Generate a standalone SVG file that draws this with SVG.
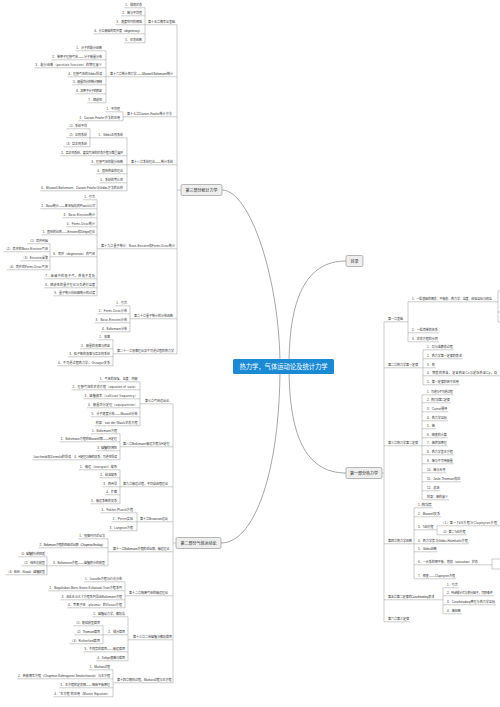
<svg xmlns="http://www.w3.org/2000/svg" width="500" height="707" viewBox="0 0 500 707">
<style>
.t{font-family:"Liberation Sans","Noto Sans CJK SC",sans-serif;font-size:3px;fill:#333}
.n{font-family:"Liberation Sans","Noto Sans CJK SC",sans-serif;font-size:4px;fill:#222;text-anchor:middle}
.c{font-family:"Liberation Sans","Noto Sans CJK SC",sans-serif;font-size:6.3px;fill:#fff;text-anchor:middle}
.l{fill:none;stroke:#9a9a9a;stroke-width:.5}
.k{fill:none;stroke:#6a6a6a;stroke-width:.6}
.b{fill:#eeeeee;stroke:#777;stroke-width:.5}
</style>
<rect width="500" height="707" fill="#fff"/>
<g id="connectors">
<path class="k" d="M222 190C250 190 280 280 280 366.5M221 543C255 543 280 470 280 366.5M346 261C305 261 289 300 289 366.5M346 473C305 473 289 434 289 366.5"/>
<path class="l" d="M177 24.8V353.8M177 190H181M173 403.8V682.8M173 543H176M384 321.8V621.8M382 473H384"/>
<path class="l" d="M124.3 7.8H145M121.3 15.8H145M115.3 24.8H177M93.3 33.8H145M124.3 42.8H145M145 7.8V42.8"/>
<path class="l" d="M75.3 50.8H106M51.3 59.8H106M34.3 67.8H106M67.3 76.8H177M72.3 84.8H106M75.3 93.8H106M87.3 102.8H106M106 50.8V102.8"/>
<path class="l" d="M105.3 111.8H123M78.5 120.8H123M123 111.8V120.8M123 116.8H177"/>
<path class="l" d="M66.3 128.8H90M66.3 137.8H127M63.3 146.8H90M90 128.8V146.8M60.3 155.8H127M90.3 164.8H177M96.3 173.8H127M99.3 182.8H127M40.3 190.8H127M127 137.8V190.8"/>
<path class="l" d="M83.3 199.8H97M40.3 208.8H97M62.5 217.8H97M65.7 226.8H97M41.5 234.8H97M50 256.8H97M27.3 243.8H50M3.5 251.8H50M20.5 260.8H50M6.7 269.8H50M50 243.8V269.8M44.3 278.8H97M44.3 287.8H97M53.3 295.8H97M97 199.8V295.8M97 248.8H177"/>
<path class="l" d="M115.3 305.8H130M97.7 313.8H130M94.5 322.8H130M100.9 331.8H130M130 305.8V331.8M130 318.8H177"/>
<path class="l" d="M98.3 339.8H113M80.3 348.8H113M68.3 356.8H113M57.1 365.8H113M113 339.8V365.8M113 353.8H177"/>
<path class="l" d="M98.8 381.8H140M71.6 389.8H140M83.5 398.8H140M87 407.8H140M90.6 416.8H140M94.7 425.8H140M140 381.8V425.8M140 403.8H173"/>
<path class="l" d="M90.9 433.8H120M59.7 441.8H120M96.3 450.8H120M32.4 459.8H120M120 433.8V459.8M120 446.8H173"/>
<path class="l" d="M78.9 469.8H120M99.3 477.8H120M102.3 486.8H173M105.3 494.8H120M90.3 503.8H120M120 469.8V503.8"/>
<path class="l" d="M100.5 512.8H137M111.7 521.8H173M108.5 530.8H137M137 512.8V530.8"/>
<path class="l" d="M78.3 538.8H108M38.5 547.8H108M47 565.8H108M18.3 556.8H47M21.3 565.8H47M5.5 574.8H47M47 556.8V574.8M108 538.8V565.8M108 551.8H173"/>
<path class="l" d="M83.9 581.8H125M48.3 590.8H125M60.5 599.8H125M67.1 607.8H125M125 581.8V607.8M125 595.8H173"/>
<path class="l" d="M92.3 616.8H128M103 634.8H128M73.3 625.8H103M74.1 634.8H103M69.3 643.8H103M103 625.8V643.8M83.3 651.8H128M96.3 660.8H128M128 616.8V660.8M128 639.8H173"/>
<path class="l" d="M88.7 669.8H113M17.1 678.8H113M59.3 687.8H113M53.3 696.8H113M113 669.8V696.8M113 682.8H173"/>
<path class="l" d="M384 321.8H408M408 301.8V341.8M408 301.8H498M498 291V322M498 291H500M498 312H500M498 322H500M408 332.8H438.7M408 341.8H438.7"/>
<path class="l" d="M384 367.8H423M423 349.8V384.8M423 349.8H453.7M423 358.8H462.7M423 367.8H435.7M423 375.8H500M423 384.8H459.7"/>
<path class="l" d="M384 445.8H422M422 394.8V499.8M422 394.8H453.7M422 402.8H450.7M422 411.8H448.3M422 420.8H447.7M422 428.8H435.7M422 437.8H447.7M422 445.8H447.7M422 454.8H453.7M422 463.8H453.7M422 472.8H446.4M422 481.8H461.2M422 490.8H440.4M422 499.8H449"/>
<path class="l" d="M384 543.8H414M414 507.8V578.8M414 507.8H432.7M414 516.8H440.9M414 529.8H437M437 525.8V534.8M437 525.8H500M437 534.8H466.5M414 543.8H468.7M414 551.8H437.7M414 564.8H492M492 559V569M492 559H500M492 569H500M414 578.8H456.1"/>
<path class="l" d="M384 599.8H443M443 587.8V613.8M443 587.8H458.7M443 595.8H493.7M443 604.8H495.9M443 613.8H461.7"/>
<path class="l" d="M384 621.8H410"/>
</g>
<g id="ch15" class="t" text-anchor="end">
<text x="148" y="23.2" text-anchor="start" textLength="27">第十五章概率论基础</text>
<text x="142" y="6.2" textLength="16.7">1、微观状态</text>
<text x="142" y="14.2" textLength="19.7">2、熵与平均值</text>
<text x="142" y="23.2" textLength="25.7">3、速度空间的相格</text>
<text x="142" y="32.2" textLength="47.7">4、分立能级的简并度（degeneracy）</text>
<text x="142" y="41.2" textLength="16.7">5、状态函数</text>
</g>
<g id="ch16" class="t" text-anchor="end">
<text x="110" y="75.2" text-anchor="start" textLength="63">第十六章统计热力学——Maxwell-Boltzmann统计</text>
<text x="102" y="49.2" textLength="25.7">1、分子的配分函数</text>
<text x="102" y="58.2" textLength="49.7">2、单原子理想气体——分子能量分布</text>
<text x="102" y="66.2" textLength="66.7">3、配分函数（partition function）的物理意义</text>
<text x="102" y="75.2" textLength="33.7">4、理想气体的Gibbs佯谬</text>
<text x="102" y="83.2" textLength="28.7">5、能量均分的统计解释</text>
<text x="102" y="92.2" textLength="25.7">6、双原子分子的热容</text>
<text x="102" y="101.2" textLength="13.7">7、顺磁性</text>
</g>
<g id="ch17" class="t" text-anchor="end">
<text x="127" y="115.2" text-anchor="start" textLength="44.8">第十七章Darwin-Fowler统计方法</text>
<text x="120" y="110.2" textLength="13.7">1、平均值</text>
<text x="120" y="119.2" textLength="40.5">2、Darwin-Fowler方法的应用</text>
</g>
<g id="ch18" class="t" text-anchor="end">
<text x="131" y="163.2" text-anchor="start" textLength="42">第十八章系综理论——统计系综</text>
<text x="123" y="136.2" textLength="24.7">1、Gibbs正则系综</text>
<text x="87" y="127.2" textLength="19.7">（1）系综平均</text>
<text x="87" y="136.2" textLength="19.7">（2）正则系综</text>
<text x="87" y="145.2" textLength="22.7">（3）巨正则系综</text>
<text x="123" y="154.2" textLength="61.7">2、巨正则系综，真实气体的状态方程与维里展开</text>
<text x="123" y="163.2" textLength="31.7">3、理想气体的配分函数</text>
<text x="123" y="172.2" textLength="25.7">4、固体热容的理论</text>
<text x="123" y="181.2" textLength="22.7">5、系综的等价性</text>
<text x="123" y="189.2" textLength="81.7">6、Maxwell-Boltzmann、Darwin-Fowler与Gibbs方法的比较</text>
</g>
<g id="ch19" class="t" text-anchor="end">
<text x="101" y="247.2" text-anchor="start" textLength="74">第十九章量子统计：Bose-Einstein和Fermi-Dirac统计</text>
<text x="95" y="198.2" textLength="10.7">1、引言</text>
<text x="95" y="207.2" textLength="53.7">2、Bose统计——黑体辐射的Planck公式</text>
<text x="95" y="216.2" textLength="31.5">3、Bose-Einstein统计</text>
<text x="95" y="225.2" textLength="28.3">4、Fermi-Dirac统计</text>
<text x="95" y="233.2" textLength="52.5">5、固体的比热——Einstein和Debye理论</text>
<text x="95" y="255.2" textLength="41.7">6、简并（degenerate）的气体</text>
<text x="48" y="242.2" textLength="19.7">（1）简并判据</text>
<text x="48" y="250.2" textLength="43.5">（2）简并的Bose-Einstein气体</text>
<text x="48" y="259.2" textLength="26.5">（3）Einstein凝聚</text>
<text x="48" y="268.2" textLength="40.3">（4）简并的Fermi-Dirac气体</text>
<text x="95" y="277.2" textLength="49.7">7、金属中的电子气，热电子发射</text>
<text x="95" y="286.2" textLength="49.7">8、顺磁性的量子理论与负绝对温度</text>
<text x="95" y="294.2" textLength="40.7">9、量子统计向经典统计的过渡</text>
</g>
<g id="ch20" class="t" text-anchor="end">
<text x="134" y="317.2" text-anchor="start" textLength="39">第二十章量子统计的分布函数</text>
<text x="127" y="304.2" textLength="10.7">1、引言</text>
<text x="127" y="312.2" textLength="28.3">2、Fermi-Dirac分布</text>
<text x="127" y="321.2" textLength="31.5">3、Bose-Einstein分布</text>
<text x="127" y="330.2" textLength="25.1">4、Boltzmann分布</text>
</g>
<g id="ch21" class="t" text-anchor="end">
<text x="117" y="352.2" text-anchor="start" textLength="57">第二十一章涨落理论及不可逆过程的热力学</text>
<text x="110" y="338.2" textLength="10.7">1、涨落</text>
<text x="110" y="347.2" textLength="28.7">2、能量的涨落与热容</text>
<text x="110" y="355.2" textLength="40.7">3、粒子数的涨落与巨正则系综</text>
<text x="110" y="364.2" textLength="51.9">4、不可逆过程热力学，Onsager关系</text>
</g>
<g id="ch07" class="t" text-anchor="end">
<text x="145" y="402.2" text-anchor="start" textLength="24">第七章气体运动论</text>
<text x="137.5" y="380.2" textLength="37.7">1、气体的压强、温度、内能</text>
<text x="137.5" y="388.2" textLength="64.9">2、理想气体的状态方程（equation of state）</text>
<text x="137.5" y="397.2" textLength="53">3、碰撞频率（collision frequency）</text>
<text x="137.5" y="406.2" textLength="49.5">4、能量均分定理（equipartition）</text>
<text x="137.5" y="415.2" textLength="45.9">5、分子速度分布——Maxwell分布</text>
<text x="137.5" y="424.2" textLength="41.8">附录：van der Waals状态方程</text>
</g>
<g id="ch08" class="t" text-anchor="end">
<text x="123" y="445.2" text-anchor="start" textLength="46.4">第八章Boltzmann输运方程与H定理</text>
<text x="117" y="432.2" textLength="25.1">1、Boltzmann方程</text>
<text x="117" y="440.2" textLength="56.3">2、Boltzmann方程的Maxwell解——H定理</text>
<text x="117" y="449.2" textLength="19.7">3、碰撞的对称性</text>
<text x="117" y="458.2" textLength="42.7">4、H定理与熵的关系，可逆性佯谬</text>
<text x="71" y="458.2" textLength="37.6">Loschmidt和Zermelo的佯谬</text>
</g>
<g id="ch09" class="t" text-anchor="end">
<text x="123" y="485.2" text-anchor="start" textLength="45">第九章输运过程，平均自由程理论</text>
<text x="117" y="468.2" textLength="37.1">1、输运（transport）现象</text>
<text x="117" y="476.2" textLength="16.7">2、粘滞现象</text>
<text x="117" y="485.2" textLength="13.7">3、热传导</text>
<text x="117" y="493.2" textLength="10.7">4、扩散</text>
<text x="117" y="502.2" textLength="25.7">5、输运系数的关系</text>
</g>
<g id="ch10" class="t" text-anchor="end">
<text x="140" y="520.2" text-anchor="start" textLength="27.8">第十章Brownian运动</text>
<text x="133" y="511.2" textLength="31.5">1、Fokker-Planck方程</text>
<text x="133" y="520.2" textLength="20.3">2、Perrin实验</text>
<text x="133" y="529.2" textLength="23.5">3、Langevin方程</text>
</g>
<g id="ch11" class="t" text-anchor="end">
<text x="113" y="550.2" text-anchor="start" textLength="56.4">第十一章Boltzmann方程的近似解，输运理论</text>
<text x="105" y="537.2" textLength="25.7">1、弛豫时间近似法</text>
<text x="105" y="546.2" textLength="65.5">2、Boltzmann方程的逐级近似解（Chapman-Enskog）</text>
<text x="105" y="564.2" textLength="52.1">3、Boltzmann方程——碰撞积分的模型</text>
<text x="45" y="555.2" textLength="25.7">（1）碰撞积分的性质</text>
<text x="45" y="564.2" textLength="22.7">（2）线性化模型</text>
<text x="45" y="573.2" textLength="38.5">（3）BGK（Krook）碰撞模型</text>
</g>
<g id="ch12" class="t" text-anchor="end">
<text x="129" y="594.2" text-anchor="start" textLength="39">第十二章稠密气体的输运理论</text>
<text x="122" y="580.2" textLength="37.1">1、Liouville方程与约化分布</text>
<text x="122" y="589.2" textLength="72.7">2、Bogoliubov-Born-Green-Kirkwood-Yvon方程系列</text>
<text x="122" y="598.2" textLength="60.5">3、由B-B-G-K-Y方程系列导出Boltzmann方程</text>
<text x="122" y="606.2" textLength="53.9">4、等离子体（plasma）的Vlasov方程</text>
</g>
<g id="ch13" class="t" text-anchor="end">
<text x="133" y="638.2" text-anchor="start" textLength="39">第十三章二体碰撞与散射截面</text>
<text x="125" y="615.2" textLength="31.7">1、碰撞动力学，散射角</text>
<text x="125" y="633.2" textLength="16.7">2、微分截面</text>
<text x="100" y="624.2" textLength="25.7">（1）刚球模型截面</text>
<text x="100" y="633.2" textLength="24.9">（2）Thomson截面</text>
<text x="100" y="642.2" textLength="29.7">（3）Rutherford截面</text>
<text x="125" y="650.2" textLength="40.7">3、不同势的截面——输运截面</text>
<text x="125" y="659.2" textLength="27.7">4、Debye屏蔽与截面</text>
</g>
<g id="ch14" class="t" text-anchor="end">
<text x="117" y="681.2" text-anchor="start" textLength="54.6">第十四章随机过程，Markov过程与主方程</text>
<text x="110" y="668.2" textLength="20.3">1、Markov过程</text>
<text x="110" y="677.2" textLength="91.9">2、转移概率方程（Chapman-Kolmogorov-Smoluchowski）与主方程</text>
<text x="110" y="686.2" textLength="49.7">3、主方程的定态解——细致平衡原理</text>
<text x="110" y="695.2" textLength="55.7">4、“主方程”的应用（Master Equation）</text>
</g>
<g id="ch01" class="t">
<text x="388" y="320.2" textLength="15">第一章基础</text>
<text x="412" y="300.2" textLength="79.7">1、一些基础的概念：平衡态、热力学、温度、经验温标与测温</text>
<text x="412" y="331.2" textLength="25.7">2、一些简单的体系</text>
<text x="412" y="340.2" textLength="25.7">3、状态方程的示例</text>
</g>
<g id="ch02" class="t">
<text x="388" y="366.2" textLength="30">第二章热力学第一定律</text>
<text x="427" y="348.2" textLength="25.7">1、功与准静态过程</text>
<text x="427" y="357.2" textLength="34.7">2、热力学第一定律的表述</text>
<text x="427" y="366.2" textLength="7.7">3、热</text>
<text x="427" y="374.2" textLength="70">4、物质的热容，定容热容Cv与定压热容Cp，焓</text>
<text x="427" y="383.2" textLength="31.7">5、第一定律的若干应用</text>
</g>
<g id="ch03" class="t">
<text x="388" y="444.2" textLength="30">第三章热力学第二定律</text>
<text x="427" y="393.2" textLength="25.7">1、可逆与不可逆过程</text>
<text x="427" y="401.2" textLength="22.7">2、热力学第二定律</text>
<text x="427" y="410.2" textLength="20.3">3、Carnot循环</text>
<text x="427" y="419.2" textLength="19.7">4、热力学温标</text>
<text x="427" y="427.2" textLength="7.7">5、熵</text>
<text x="427" y="436.2" textLength="19.7">6、熵变的计算</text>
<text x="427" y="444.2" textLength="19.7">7、熵增加原理</text>
<text x="427" y="453.2" textLength="25.7">8、热力学基本方程</text>
<text x="427" y="462.2" textLength="25.7">9、熵与不可用能量</text>
<text x="427" y="471.2" textLength="18.4">10、熵与无序</text>
<text x="427" y="480.2" textLength="33.2">11、Joule-Thomson效应</text>
<text x="427" y="489.2" textLength="12.4">12、总结</text>
<text x="427" y="498.2" textLength="21">附录：熵的意义</text>
</g>
<g id="ch04" class="t">
<text x="388" y="542.2" textLength="24">第四章热力学函数</text>
<text x="418" y="506.2" textLength="13.7">1、热力学势</text>
<text x="418" y="515.2" textLength="21.9">2、Maxwell关系</text>
<text x="418" y="528.2" textLength="15.5">3、TdS方程</text>
<text x="441" y="524.2" textLength="56">（1）第一TdS方程与Clapeyron方程</text>
<text x="441" y="533.2" textLength="24.5">（2）第二TdS方程</text>
<text x="418" y="542.2" textLength="49.7">4、热力学势与Gibbs-Helmholtz方程</text>
<text x="418" y="550.2" textLength="18.7">5、Gibbs函数</text>
<text x="418" y="563.2" textLength="59.7">6、一元系的相平衡，饱和（saturation）状态</text>
<text x="418" y="577.2" textLength="37.1">7、相变——Clapeyron方程</text>
</g>
<g id="ch05" class="t">
<text x="388" y="598.2" textLength="46.2">第五章第二定律的Carathéodory表述</text>
<text x="447" y="586.2" textLength="10.7">1、引言</text>
<text x="447" y="594.2" textLength="45.7">2、Pfaff微分式与积分因子，可积条件</text>
<text x="447" y="603.2" textLength="47.9">3、Carathéodory原理与热力学温标</text>
<text x="447" y="612.2" textLength="13.7">4、熵函数</text>
</g>
<g id="ch06" class="t">
<text x="388" y="620.2" textLength="21">第六章第三定律</text>
</g>
<g id="part3">
<rect class="b" x="181" y="184.5" width="41" height="11" rx="1.5"/>
<text class="n" x="201.5" y="191.5">第三部分统计力学</text>
</g>
<g id="part2">
<rect class="b" x="176" y="537.5" width="45" height="11" rx="1.5"/>
<text class="n" x="198.5" y="544.5">第二部分气体运动论</text>
</g>
<g id="toc">
<rect class="b" x="346" y="255.5" width="17" height="11" rx="1.5"/>
<text class="n" x="354.5" y="262.5">目录</text>
</g>
<g id="part1">
<rect class="b" x="346" y="467.5" width="36" height="11" rx="1.5"/>
<text class="n" x="364" y="474.5">第一部分热力学</text>
</g>
<g id="root">
<rect x="233" y="359" width="101" height="15" rx="1.5" fill="#1a8ad5"/>
<text class="c" x="283.5" y="368.7">热力学，气体运动论及统计力学</text>
</g>
</svg>
